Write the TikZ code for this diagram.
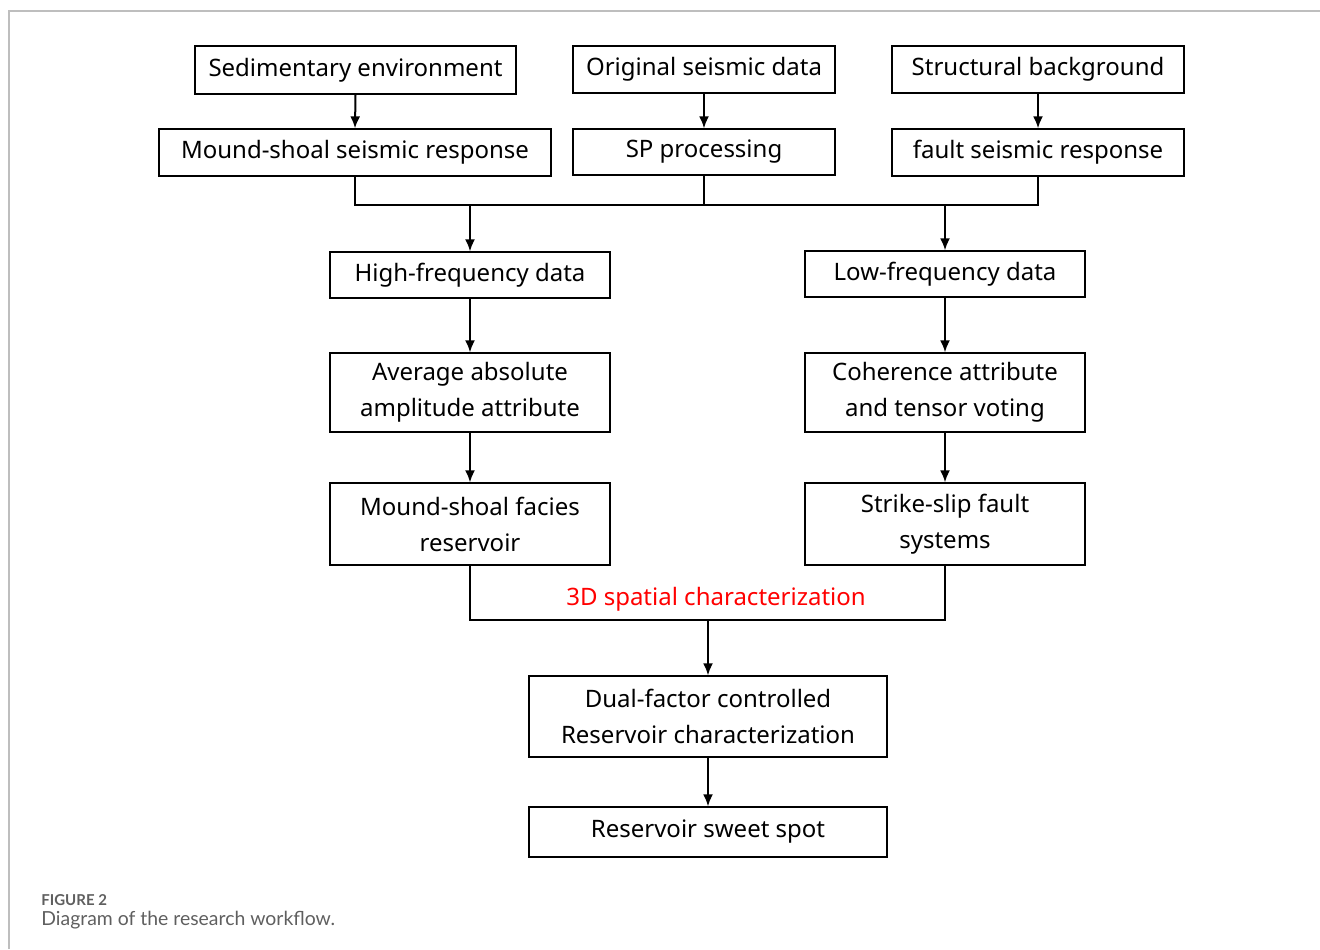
\documentclass[tikz,border=0pt]{standalone}
\usepackage{fontspec}
\setmainfont{Noto Sans}
\newfontfamily\capfont{Lato}
\usepackage{xcolor}
\usetikzlibrary{arrows.meta,positioning,calc}
\definecolor{framegray}{RGB}{190,190,190}
\definecolor{capgray}{RGB}{95,95,95}

\begin{document}
\begin{tikzpicture}[
  x=0.5pt, y=-0.5pt,
  box/.style={draw, line width=0.65pt, inner sep=0pt, align=center,
              font=\fontsize{12}{18}\selectfont},
  arrow/.style={-{Latex[length=6pt,width=5pt]}, line width=1pt},
  link/.style={line width=1pt}
]
\useasboundingbox (0,0) rectangle (1320,949);
% page frame
\draw[framegray, line width=0.6pt] (9,949) -- (9,11) -- (1320,11);

% top row
\node[box, minimum width=160.5pt, minimum height=24pt] (sed)    at (355.5,70)  {Sedimentary environment};
\node[box, minimum width=131pt,   minimum height=23.5pt] (orig) at (704,69.5)  {Original seismic data};
\node[box, minimum width=146pt,   minimum height=23.5pt] (struct) at (1038,69.5) {Structural background};
\node[box, minimum width=196pt,   minimum height=23.5pt] (mound) at (355,152.5) {Mound-shoal seismic response};
\node[box, minimum width=131pt,   minimum height=23pt]   (sp)    at (704,152)   {SP processing};
\node[box, minimum width=146pt,   minimum height=23.5pt] (fault) at (1038,152.5) {fault seismic response};

% two branches
\node[box, minimum width=140pt, minimum height=23pt]   (high)   at (470,275)   {High-frequency data};
\node[box, minimum width=140pt, minimum height=23pt]   (low)    at (945,274)   {Low-frequency data};
\node[box, minimum width=140pt, minimum height=39.5pt] (avg)    at (470,392.5) {Average absolute\\amplitude attribute};
\node[box, minimum width=140pt, minimum height=39.5pt] (coh)    at (945,392.5) {Coherence attribute\\and tensor voting};
\node[box, minimum width=140pt, minimum height=41pt]   (facies) at (470,524)   {Mound-shoal facies\\reservoir};
\node[box, minimum width=140pt, minimum height=41pt]   (strike) at (945,524)   {Strike-slip fault\\systems};

% result
\node[box, minimum width=179pt, minimum height=40.5pt] (dual)  at (708,716.5) {Dual-factor controlled\\Reservoir characterization};
\node[box, minimum width=179pt, minimum height=25pt]   (sweet) at (708,832)   {Reservoir sweet spot};

\coordinate (topjoin) at (704,205);
\coordinate (botjoin) at (708,620);
\node[font=\fontsize{12}{14}\selectfont, text=red] (spatial) at (716,599) {3D spatial characterization};

\draw[arrow] (sed.south) -- (mound.north);
\draw[arrow] (orig.south) -- (sp.north);
\draw[arrow] (struct.south) -- (fault.north);
\draw[link] (mound.south) |- (topjoin) -| (fault.south);
\draw[link] (sp.south) -- (topjoin);
\draw[arrow] (high.north |- topjoin) -- (high.north);
\draw[arrow] (low.north |- topjoin) -- (low.north);
\draw[arrow] (high.south) -- (avg.north);
\draw[arrow] (low.south) -- (coh.north);
\draw[arrow] (avg.south) -- (facies.north);
\draw[arrow] (coh.south) -- (strike.north);
\draw[link] (facies.south) |- (botjoin) -| (strike.south);
\draw[arrow] (botjoin) -- (dual.north);
\draw[arrow] (dual.south) -- (sweet.north);

% caption
\node[anchor=base west, inner sep=0pt, text=capgray, font=\capfont\bfseries\fontsize{7.5}{8}\selectfont] (figlabel) at (41,905) {FIGURE 2};
\node[anchor=base west, inner sep=0pt, text=capgray, font=\capfont\fontsize{9.7}{10}\selectfont] (figtext) at (41,925) {Diagram of the research workflow.};
\end{tikzpicture}
\end{document}
